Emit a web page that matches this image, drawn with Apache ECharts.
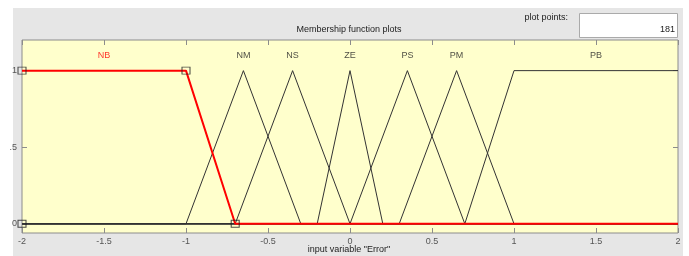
<!DOCTYPE html>
<html>
<head>
<meta charset="utf-8">
<script src="https://cdn.jsdelivr.net/npm/echarts@6/dist/echarts.min.js"></script>
<style>
  html, body { margin: 0; padding: 0; background: #fff; }
  #chart { width: 689px; height: 256px; }
</style>
</head>
<body>
<div id="chart"></div>
<script>
// membership functions of input variable "Error"
const mfNames = ['NB', 'NM', 'NS', 'ZE', 'PS', 'PM', 'PB'];
const mfTypes = ['trapmf', 'trimf', 'trimf', 'trimf', 'trimf', 'trimf', 'trapmf'];
const mfParams = [
  [-2, -2, -1, -0.7],
  [-1, -0.65, -0.3],
  [-0.7, -0.35, 0],
  [-0.2, 0, 0.2],
  [0, 0.35, 0.7],
  [0.3, 0.65, 1],
  [0.7, 1, 2, 2]
];
const selected = 0; // NB highlighted
const xRange = [-2, 2];
const xTicks = [-2, -1.5, -1, -0.5, 0, 0.5, 1, 1.5, 2];
const yTicks = [0, 0.5, 1];

function mfValue(type, p, x) {
  if (type === 'trimf') p = [p[0], p[1], p[1], p[2]];
  const [a, b, c, d] = p;
  if (x < a || x > d) return 0;
  if (x >= b && x <= c) return 1;
  if (x < b) return b === a ? 1 : (x - a) / (b - a);
  return d === c ? 1 : (d - x) / (d - c);
}

function mfLine(i) {
  const xs = [xRange[0], xRange[1], ...mfParams[i]].filter(v => v >= xRange[0] && v <= xRange[1]);
  const uniq = [...new Set(xs)].sort((a, b) => a - b);
  return uniq.map(x => [x, mfValue(mfTypes[i], mfParams[i], x)]);
}

function labelX(i) {
  const p = mfParams[i];
  return mfTypes[i] === 'trimf' ? p[1] : (p[1] + p[2]) / 2;
}

function squares(i) {
  const p = mfParams[i];
  const ys = mfTypes[i] === 'trimf' ? [0, 1, 0] : [0, 1, 1, 0];
  return p.map((x, k) => [x, ys[k]]);
}

const series = [];
mfNames.forEach((name, i) => {
  if (i === selected) return;
  series.push({
    type: 'line', data: mfLine(i), symbol: 'none', silent: true,
    lineStyle: { color: '#333', width: 1 }, z: 2
  });
});
series.push({
  type: 'line', data: mfLine(selected), symbol: 'none',
  lineStyle: { color: '#ff0000', width: 2 }, z: 3
});
series.push({
  type: 'scatter', data: squares(selected), symbol: 'rect', symbolSize: [8, 7],
  itemStyle: { color: 'rgba(0,0,0,0)', borderColor: '#222', borderWidth: 1 }, z: 4
});
series.push({
  type: 'scatter', symbolSize: 0,
  data: mfNames.map((n, i) => ({
    value: [labelX(i), 1.1],
    label: { color: i === selected ? '#ff0000' : '#222' }
  })),
  label: {
    show: true, position: 'inside', fontFamily: 'Liberation Sans', fontSize: 9,
    formatter: p => mfNames[p.dataIndex]
  }, z: 5
});

const tickStyle = { inside: true, length: 5, lineStyle: { color: '#8c8c8c' } };

const chart = echarts.init(document.getElementById('chart'));
chart.setOption({
  animation: false,
  graphic: [
    { type: 'rect', shape: { x: 13, y: 8, width: 670, height: 248 }, style: { fill: '#e6e6e6' }, z: -10 },
    { type: 'rect', shape: { x: 579.5, y: 13.5, width: 98, height: 24 }, style: { fill: '#fff', stroke: '#aaa', lineWidth: 1 } },
    { type: 'text', x: 568, y: 18, style: { text: 'plot points:', fill: '#222', font: '9px "Liberation Sans"', textAlign: 'right', textVerticalAlign: 'middle' } },
    { type: 'text', x: 675, y: 30, style: { text: '181', fill: '#222', font: '9px "Liberation Sans"', textAlign: 'right', textVerticalAlign: 'middle' } },
    { type: 'text', x: 349, y: 30, style: { text: 'Membership function plots', fill: '#222', font: '9px "Liberation Sans"', textAlign: 'center', textVerticalAlign: 'middle' } },
    { type: 'text', x: 349, y: 250, style: { text: 'input variable "Error"', fill: '#222', font: '9px "Liberation Sans"', textAlign: 'center', textVerticalAlign: 'middle' } }
  ],
  grid: {
    left: 22, right: 11, top: 40, bottom: 23, show: true,
    backgroundColor: '#ffffcc', borderColor: '#8c8c8c', borderWidth: 1
  },
  xAxis: [
    {
      type: 'value', min: xRange[0], max: xRange[1], interval: 0.5,
      axisLine: { show: false, onZero: false }, splitLine: { show: false },
      axisTick: tickStyle,
      axisLabel: { color: '#555', fontSize: 9, fontFamily: 'Liberation Sans', margin: 4,
        formatter: v => xTicks.includes(v) ? String(v) : '' }
    },
    {
      type: 'value', position: 'top', min: xRange[0], max: xRange[1], interval: 0.5,
      axisLine: { show: false, onZero: false }, splitLine: { show: false }, axisLabel: { show: false },
      axisTick: tickStyle
    }
  ],
  yAxis: [
    {
      type: 'value', min: -0.06, max: 1.2,
      axisLine: { show: false, onZero: false }, splitLine: { show: false },
      axisTick: Object.assign({ customValues: yTicks }, tickStyle),
      axisLabel: { color: '#555', fontSize: 9, fontFamily: 'Liberation Sans', margin: 5,
        customValues: yTicks, formatter: v => v === 0.5 ? '.5' : String(v) }
    },
    {
      type: 'value', position: 'right', min: -0.06, max: 1.2,
      axisLine: { show: false, onZero: false }, splitLine: { show: false }, axisLabel: { show: false },
      axisTick: Object.assign({ customValues: yTicks }, tickStyle)
    }
  ],
  series: series
});
</script>
</body>
</html>
